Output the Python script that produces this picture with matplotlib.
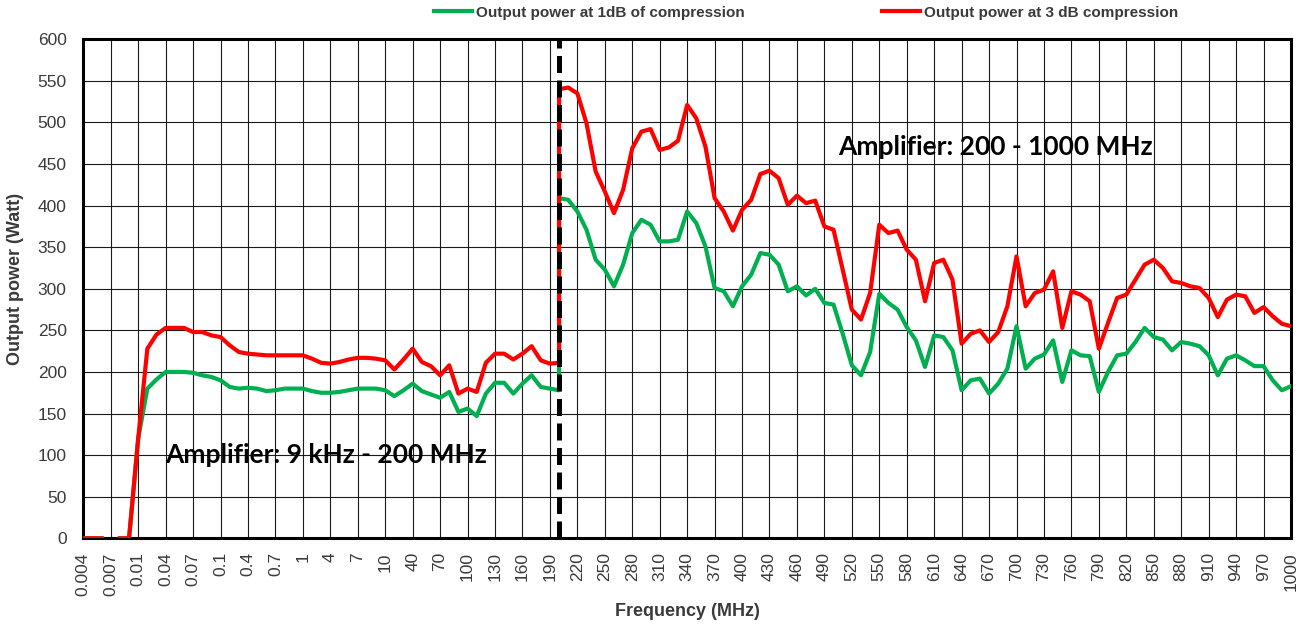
import numpy as np
import matplotlib
matplotlib.use("Agg")
import matplotlib.pyplot as plt

# --------------------------------------------------------------------------
# Data
# --------------------------------------------------------------------------
# x axis is categorical (Excel line chart): one category per measured frequency
freq_labels = [
    "0.004", "0.005", "0.006", "0.007", "0.008", "0.009",
    "0.01", "0.02", "0.03", "0.04", "0.05", "0.06", "0.07", "0.08", "0.09",
    "0.1", "0.2", "0.3", "0.4", "0.5", "0.6", "0.7", "0.8", "0.9",
    "1", "2", "3", "4", "5", "6", "7", "8", "9",
    "10", "20", "30", "40", "50", "60", "70", "80", "90", "100",
    "110", "120", "130", "140", "150", "160", "170", "180", "190", "200",
    "210", "220", "230", "240", "250", "260", "270", "280", "290", "300",
    "310", "320", "330", "340", "350", "360", "370", "380", "390", "400",
    "410", "420", "430", "440", "450", "460", "470", "480", "490", "500",
    "510", "520", "530", "540", "550", "560", "570", "580", "590", "600",
    "610", "620", "630", "640", "650", "660", "670", "680", "690", "700",
    "710", "720", "730", "740", "750", "760", "770", "780", "790", "800",
    "810", "820", "830", "840", "850", "860", "870", "880", "890", "900",
    "910", "920", "930", "940", "950", "960", "970", "980", "990", "1000",
]

# amplifier 9 kHz - 200 MHz (0.004 ... 200 MHz)
p1_low = [
    0, 0, 0, np.nan, 0, 0, 120, 180, 191, 200, 200, 200, 199, 196, 194,
    190, 182, 180, 181, 180, 177, 178, 180, 180,
    180, 177, 175, 175, 176, 178, 180, 180, 180,
    178, 171, 178, 186, 177, 173, 169, 176, 152, 156,
    147, 174, 187, 187, 174, 186, 196, 182, 180, 178,
]
p3_low = [
    0, 0, 0, np.nan, 0, 0, 120, 228, 245, 253, 253, 253, 248, 248, 244,
    242, 232, 224, 222, 221, 220, 220, 220, 220,
    220, 216, 211, 210, 212, 215, 217, 217, 216,
    214, 203, 215, 228, 212, 207, 196, 208, 174, 180,
    176, 211, 222, 222, 215, 222, 231, 214, 210, 211,
]

# amplifier 200 - 1000 MHz (200 ... 1000 MHz)
p1_high = [
    409, 407, 393, 371, 335, 323, 303, 329, 367, 383, 377,
    357, 357, 359, 393, 379, 351, 301, 297, 279, 303,
    317, 343, 341, 329, 297, 303, 292, 300, 283, 281,
    246, 208, 196, 224, 294, 283, 275, 254, 238, 206,
    244, 242, 226, 178, 190, 192, 174, 186, 204, 255,
    204, 216, 221, 238, 188, 226, 220, 219, 176, 200,
    220, 222, 236, 253, 242, 239, 226, 236, 234, 231,
    220, 196, 216, 220, 214, 207, 207, 190, 178, 183,
]
p3_high = [
    540, 542, 535, 499, 441, 417, 391, 419, 469, 489, 492,
    467, 470, 478, 521, 505, 471, 409, 393, 370, 395,
    407, 438, 442, 433, 401, 412, 403, 406, 375, 371,
    323, 275, 263, 295, 377, 367, 370, 347, 335, 285,
    331, 335, 311, 234, 246, 250, 236, 248, 279, 339,
    279, 295, 299, 321, 253, 297, 293, 285, 228, 259,
    289, 293, 311, 329, 335, 325, 309, 307, 303, 301,
    289, 266, 287, 293, 291, 271, 278, 267, 258, 255,
]

band_split = "200"   # both amplifiers were measured at 200 MHz
legend_labels = ["Output power at 1dB of compression",
                 "Output power at 3 dB compression"]

# --------------------------------------------------------------------------
# Figure
# --------------------------------------------------------------------------
GREEN = "#00B050"
RED = "#FF0000"
TXT = "#3a3a3a"
ARIAL = "Liberation Sans"
W, H = 1306, 629
L, R, T, B = 83.3, 1291, 39.3, 538.3   # plot area in pixels

pos = {f: i for i, f in enumerate(freq_labels)}
i_split = pos[band_split]
x_low = np.arange(len(p1_low))
x_high = np.arange(i_split, i_split + len(p1_high))
x_all = np.concatenate([x_low, x_high])
p1_all = np.concatenate([p1_low, p1_high])
p3_all = np.concatenate([p3_low, p3_high])

fig = plt.figure(figsize=(W / 100, H / 100), dpi=100)
ax = fig.add_axes([L / W, 1 - B / H, (R - L) / W, (B - T) / H])

ax.plot(x_all, p1_all, color=GREEN, lw=3.0, label=legend_labels[0],
        solid_joinstyle="round", zorder=3)
ax.plot(x_all, p3_all, color=RED, lw=3.0, label=legend_labels[1],
        solid_joinstyle="round", zorder=4)

# band separation
ax.axvline(i_split, color="black", lw=3.6, ls=(0, (3.4, 1.5)), zorder=5)

ax.set_xlim(0, len(freq_labels) - 1)
ax.set_ylim(0, 600)
ax.set_yticks(np.arange(0, 601, 50))
tick_idx = np.arange(0, len(freq_labels), 3)
ax.set_xticks(tick_idx)
ax.set_xticklabels([freq_labels[i] for i in tick_idx], rotation=90,
                   fontfamily=ARIAL, fontsize=12.5, color=TXT)
for lab in ax.get_yticklabels():
    lab.set_fontfamily(ARIAL)
    lab.set_fontsize(12.5)
    lab.set_color(TXT)
ax.tick_params(axis="both", length=0)
ax.tick_params(axis="y", pad=12)
ax.tick_params(axis="x", pad=10)

ax.grid(True, color="#1a1a1a", lw=0.8)
ax.set_axisbelow(True)
for sp in ax.spines.values():
    sp.set_linewidth(2.2)
    sp.set_color("black")

fig.text((L + R) / 2 / W, 1 - 612 / H, "Frequency (MHz)", ha="center",
         va="center", fontfamily=ARIAL, fontsize=13, fontweight="bold",
         color=TXT)
fig.text(15.5 / W, 1 - 279 / H, "Output power (Watt)", rotation=90,
         ha="center", va="center", fontfamily=ARIAL, fontsize=13,
         fontweight="bold", color=TXT)

ax.text((165 - L) / (R - L), 100, "Amplifier: 9 kHz - 200 MHz",
        transform=ax.get_yaxis_transform(), ha="left", va="center",
        fontfamily="Lato", fontweight="bold", fontsize=19, color="black",
        zorder=6)
ax.text((838 - L) / (R - L), 470, "Amplifier: 200 - 1000 MHz",
        transform=ax.get_yaxis_transform(), ha="left", va="center",
        fontfamily="Lato", fontweight="bold", fontsize=19, color="black",
        zorder=6)

leg = fig.legend(loc="center", bbox_to_anchor=(806 / W, 1 - 12.5 / H),
                 ncol=2, frameon=False, handlelength=2.5, handletextpad=0.25,
                 columnspacing=9.0,
                 prop={"family": ARIAL, "size": 11, "weight": "bold"})
for t in leg.get_texts():
    t.set_color(TXT)

fig.savefig("out.png", dpi=100)
